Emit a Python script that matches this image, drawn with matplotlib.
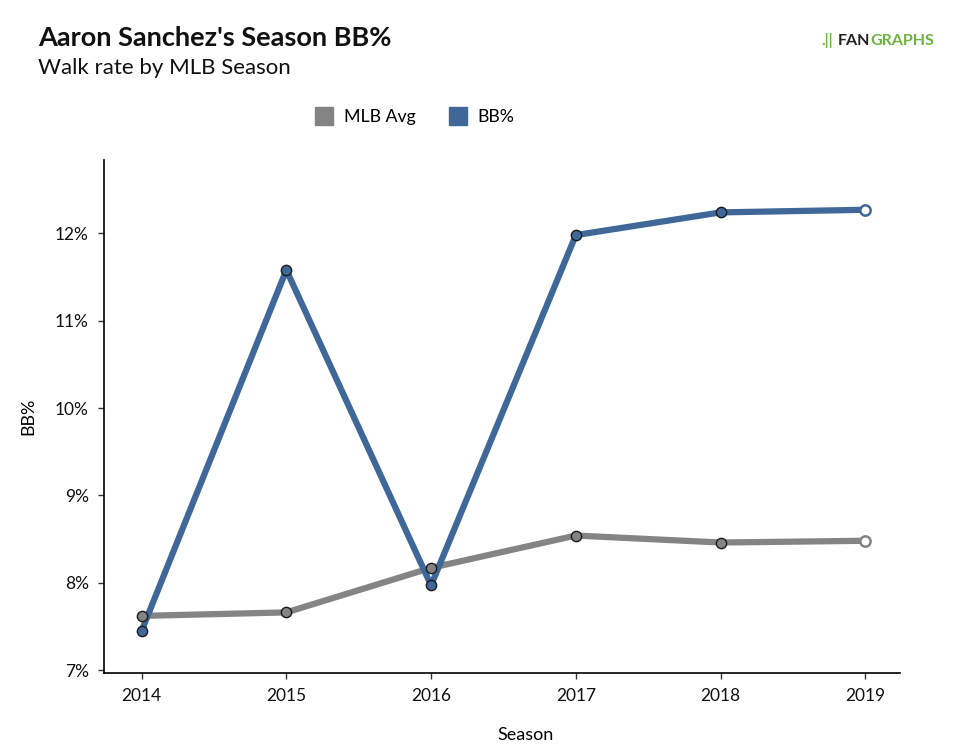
import matplotlib
matplotlib.use("Agg")
import matplotlib.pyplot as plt
from matplotlib.lines import Line2D

plt.rcParams['font.family'] = ['Lato', 'DejaVu Sans']

seasons = [2014, 2015, 2016, 2017, 2018, 2019]
bb_pct = [7.45, 11.58, 7.97, 11.98, 12.24, 12.27]
mlb_avg = [7.62, 7.66, 8.17, 8.54, 8.46, 8.48]
yticks = [7, 8, 9, 10, 11, 12]
ytick_labels = ["7%", "8%", "9%", "10%", "11%", "12%"]

blue = "#3f6899"
grey = "#848484"

fig = plt.figure(figsize=(9.6, 7.56), dpi=100)
ax = fig.add_axes([104/960, 1-673/756, (900-104)/960, (673-160)/756])

for vals, col in [(mlb_avg, grey), (bb_pct, blue)]:
    ax.plot(seasons, vals, color=col, lw=4.5, solid_capstyle='round', zorder=2)
    ax.scatter(seasons[:-1], vals[:-1], s=55, facecolor=col, edgecolor='#1a1a1a', linewidth=1.0, zorder=3)
    ax.scatter(seasons[-1:], vals[-1:], s=55, facecolor='white', edgecolor=col, linewidth=1.8, zorder=3)

ax.set_xlim(2013.74, 2019.24)
ax.set_ylim(6.966, 12.84)
ax.set_xticks(seasons)
ax.set_xticklabels([str(s) for s in seasons], fontsize=12.5)
ax.set_yticks(yticks)
ax.set_yticklabels(ytick_labels, fontsize=12.5)
ax.spines['top'].set_visible(False)
ax.spines['right'].set_visible(False)
ax.spines['left'].set_linewidth(1.2)
ax.spines['bottom'].set_linewidth(1.2)
ax.tick_params(length=4, width=1, color='#333333', labelcolor='#111111', pad=7)
ax.set_xlabel("Season", fontsize=13)
ax.xaxis.set_label_coords((526-104)/796, -(735-673)/513)
ax.xaxis.label.set_va('center')
ax.set_ylabel("BB%", fontsize=13, labelpad=13)

handles = [Line2D([], [], marker='s', ls='none', markersize=12.5, markerfacecolor=grey, markeredgecolor=grey),
           Line2D([], [], marker='s', ls='none', markersize=12.5, markerfacecolor=blue, markeredgecolor=blue)]
fig.legend(handles, ["MLB Avg", "BB%"], loc='center', bbox_to_anchor=(415/960, 1-117/756),
           ncol=2, frameon=False, fontsize=12.8, handlelength=1.0, handletextpad=0.6, columnspacing=1.9)

fig.text(38/960, 1-38/756, "Aaron Sanchez's Season BB%", fontsize=19.5, fontweight='bold', va='center', ha='left', color='#111111')
fig.text(38/960, 1-68/756, "Walk rate by MLB Season", fontsize=16, va='center', ha='left', color='#111111')

fig.text(838/960, 1-41/756, "FAN", fontsize=11.5, fontweight='bold', va='center', ha='left', color='#222222')
fig.text(870/960, 1-41/756, "GRAPHS", fontsize=11.5, fontweight='bold', va='center', ha='left', color='#6cb33f')
fig.text(821/960, 1-41/756, ".||", fontsize=11, fontweight='bold', va='center', ha='left', color='#6cb33f')

fig.savefig("out.png", dpi=100, facecolor='white')
